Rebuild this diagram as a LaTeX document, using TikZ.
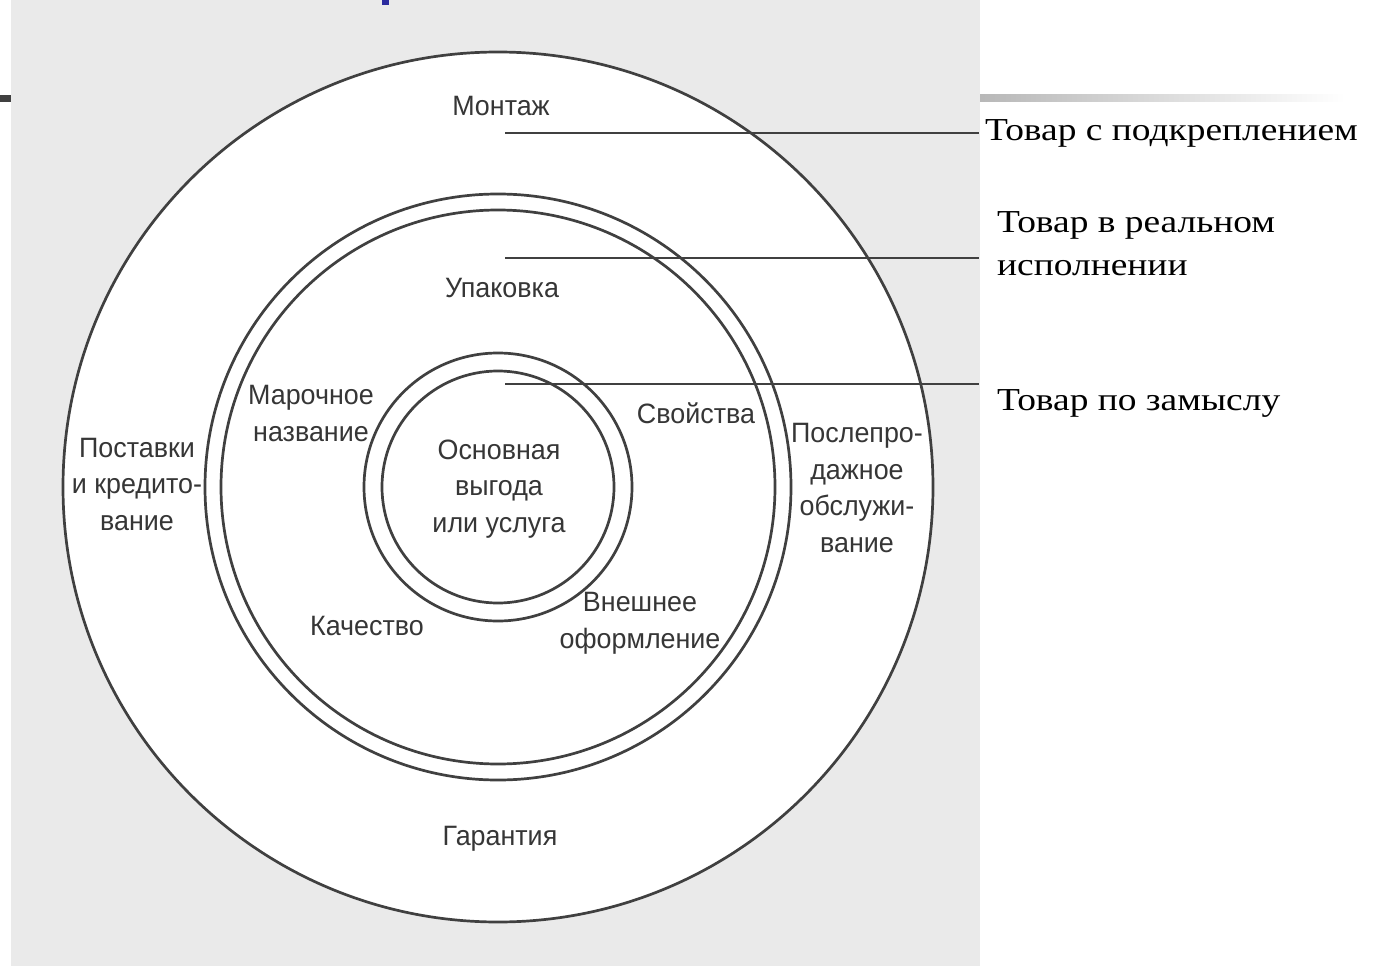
\documentclass[tikz,border=0pt]{standalone}
\usepackage{fontspec}
\newfontfamily\labfont[FakeStretch=0.96]{Liberation Sans}
\newfontfamily\serfont[FakeStretch=1.17]{Liberation Serif}
\definecolor{ink}{HTML}{404040}
\definecolor{scan}{HTML}{EAEAEA}
\definecolor{txt}{HTML}{363636}
\definecolor{titleblue}{HTML}{2B2B9E}
\begin{document}
\begin{tikzpicture}[x=1pt,y=-1pt,
  ring/.style={circle,draw=ink,line width=2.7pt,inner sep=0pt,minimum size=#1},
  lab/.style={font=\labfont\fontsize{28}{36.5}\selectfont,text=txt,align=center,inner sep=0pt,anchor=base},
  side/.style={font=\serfont\fontsize{32}{43}\selectfont,text=black,align=left,inner sep=0pt,anchor=base west},
  lead/.style={draw=ink,line width=2.3pt}]
\useasboundingbox (0,0) rectangle (1377,966);
\fill[scan] (11,0) rectangle (980,966);
\fill[titleblue] (382,0) rectangle (389,5);
\fill[ink] (0,95) rectangle (11,102);
\shade[left color=black!28, right color=white] (980,95) rectangle (1345,102);
% rings
\node[ring=870pt, fill=white] (outer) at (498,487) {};
\node[ring=586pt] (mid1) at (498,487) {};
\node[ring=554pt] (mid2) at (498,487) {};
\node[ring=268pt] (in1) at (498,487) {};
\node[ring=232pt] (in2) at (498,487) {};
% labels (multi-line nodes: base = last line)
\node[lab] (montazh) at (501,115) {Монтаж};
\node[lab] (upak) at (502,297) {Упаковка};
\node[lab] (marka) at (311,441) {Марочное\\название};
\node[lab] (core) at (499,532) {Основная\\выгода\\или услуга};
\node[lab] (svoj) at (696,423) {Свойства};
\node[lab] (posle) at (857,552) {Послепро-\\дажное\\обслужи-\\вание};
\node[lab] (postav) at (137,530) {Поставки\\и кредито-\\вание};
\node[lab] (kach) at (367,635) {Качество};
\node[lab] (vnesh) at (640,648) {Внешнее\\оформление};
\node[lab] (garant) at (500,845) {Гарантия};
% side labels
\node[side] (t1) at (985,140) {Товар с подкреплением};
\node[side] (t2) at (997,275) {Товар в реальном\\исполнении};
\node[side] (t3) at (997,410) {Товар по замыслу};
% leader lines
\coordinate (s1) at (505,133); \coordinate (e1) at (979,133);
\coordinate (s2) at (505,258); \coordinate (e2) at (979,258);
\coordinate (s3) at (505,384); \coordinate (e3) at (979,384);
\draw[lead] (s1) -- (e1);
\draw[lead] (s2) -- (e2);
\draw[lead] (s3) -- (e3);
\end{tikzpicture}
\end{document}
